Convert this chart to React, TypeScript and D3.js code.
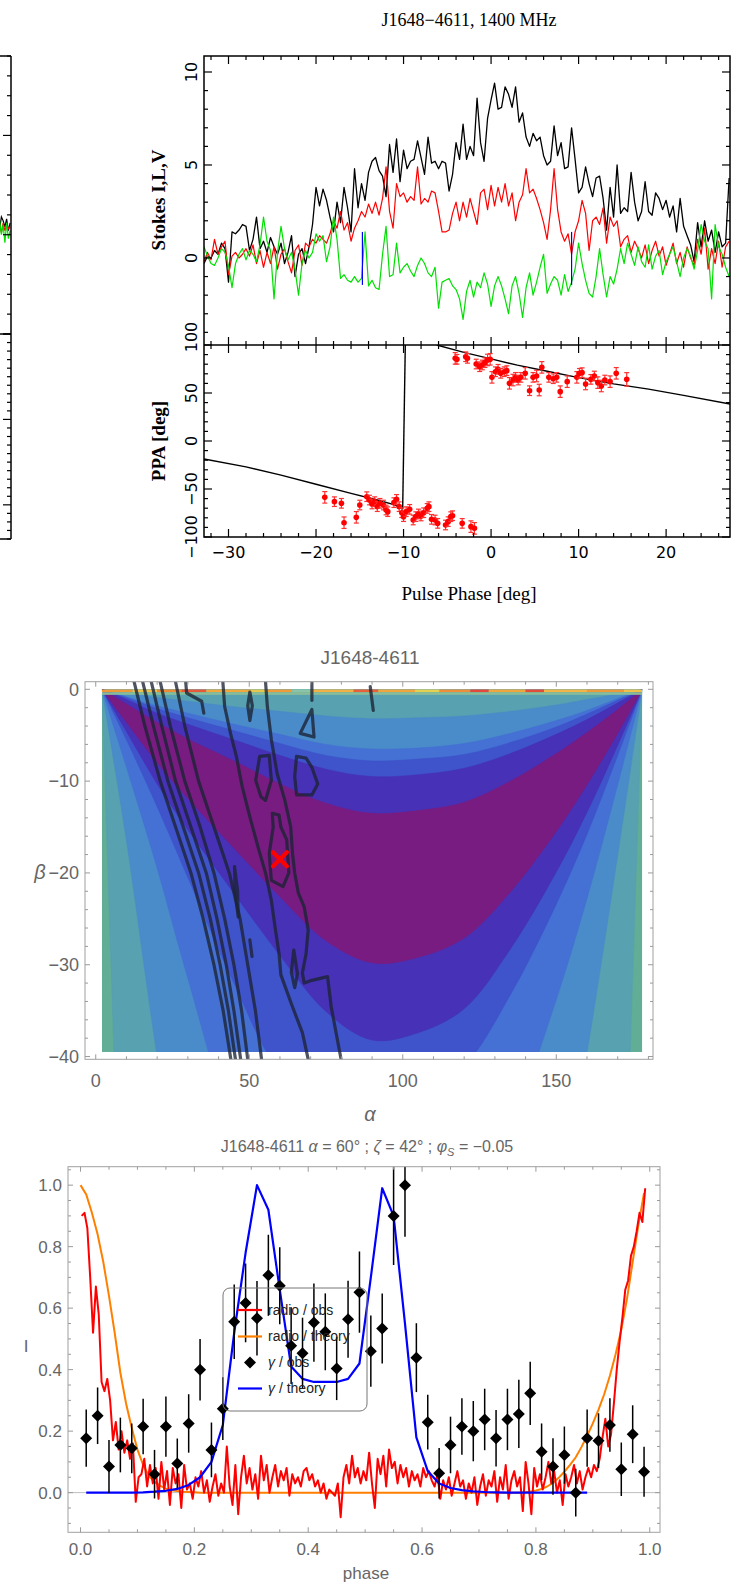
import React, { useEffect, useRef } from "react";
import * as d3 from "d3";

const PAGE_W = 743;
const PAGE_H = 1593;
const SERIF = "'Liberation Serif', 'DejaVu Serif', serif";
const PGNUM = "'DejaVu Sans', 'Liberation Sans', sans-serif";
const SANS = "'Liberation Sans', Arial, sans-serif";

/* ================= Panel 1: polarisation profile ================= */
const profileTitle = "J1648\u22124611, 1400 MHz";
const profilePhaseStart = -32.8;
const profilePhaseStep = 0.4;
const stokesI = [
  -0.3, 0.1, 0.0, 0.4, 0.2, 0.8, 0.5, -1.3, 1.4, 1.3,
  1.5, 1.8, 1.7, 0.4, 1.0, 2.2, 0.5, 0.9, 0.3, 1.1,
  0.6, 0.2, 0.8, -0.3, 0.3, 1.2, -1.0, 0.2, 0.5, -0.3,
  0.6, 1.8, 3.8, 2.8, 3.7, 3.1, 2.2, 1.4, 3.0, 1.9,
  3.8, 2.7, 1.4, 4.8, 2.7, 4.0, 3.1, 4.6, 5.2, 5.4,
  4.7, 4.4, 3.3, 6.1, 4.6, 6.4, 4.1, 5.8, 4.8, 5.2,
  5.3, 6.3, 5.4, 4.5, 6.5, 5.1, 5.2, 4.8, 5.2, 5.1,
  3.6, 4.5, 6.2, 5.3, 7.2, 5.3, 6.0, 5.5, 8.6, 6.2,
  5.2, 7.5, 8.5, 9.4, 8.0, 8.1, 9.2, 8.8, 8.1, 9.2,
  7.3, 7.8, 6.5, 6.0, 6.7, 6.3, 6.5, 5.5, 5.0, 5.2,
  7.1, 5.5, 6.2, 4.8, 4.9, 7.0, 5.3, 3.5, 3.8, 4.9,
  4.0, 3.3, 4.3, 4.4, 3.2, 1.5, 3.8, 2.2, 5.0, 2.4,
  2.7, 2.5, 4.6, 3.0, 2.0, 2.5, 4.1, 2.5, 2.3, 3.5,
  3.2, 2.6, 3.1, 2.2, 2.8, 1.4, 3.2, 1.7, 1.2, 0.7,
  -0.2, 1.9, 0.6, 2.0, 0.9, 1.5, 0.3, 1.4, 0.6, 0.8,
  4.3,
];
const stokesL = [
  -0.2, 0.3, -0.1, 1.0, 0.2, 0.6, 0.9, -0.9, 0.1, 0.3,
  0.0, 0.2, 0.5, 0.1, 0.7, -0.3, 0.4, -0.5, 0.3, -0.3,
  0.6, -0.6, 0.2, 0.5, -0.2, -0.8, 0.4, 0.7, -0.4, 0.8,
  0.6, 1.0, 0.8, 1.2, 1.0, 0.8, 1.3, 2.0, 1.6, 2.5,
  1.5, 1.9, 0.9, 1.6, 2.0, 2.5, 2.2, 2.9, 2.4, 3.0,
  2.3, 3.2, 4.9, 2.5, 1.6, 4.0, 3.3, 3.5, 3.0, 3.3,
  3.1, 4.9, 2.9, 3.2, 3.0, 3.6, 3.5, 2.5, 1.4, 1.4,
  1.5, 2.4, 3.0, 2.0, 3.0, 2.2, 3.2, 2.5, 1.8, 3.5,
  3.7, 2.6, 3.9, 2.8, 3.8, 3.0, 4.0, 2.8, 3.5, 2.0,
  3.0, 3.4, 4.8, 3.5, 3.7, 3.2, 2.6, 1.9, 1.0, 2.6,
  4.8, 2.6, 1.4, 0.9, 1.3, 0.2, 1.4, 2.0, 3.1, 2.4,
  0.4, 2.0, 2.2, 1.8, 2.7, 0.8, 2.2, 1.7, 2.0, 0.6,
  1.0, 1.2, 0.3, 0.9, 0.5, 0.0, 0.7, -0.3, 0.4, 0.9,
  0.1, 0.6, -0.4, 0.2, 0.8, -0.3, 0.3, -0.5, 0.6, 0.0,
  -0.4, 1.0, 0.2, 1.6, -0.6, 0.5, -0.3, 0.9, -0.5, 0.6,
  0.9,
];
const stokesV = [
  0.6, 0.1, -0.3, -0.4, 0.0, 0.5, 0.3, -0.4, -1.6, -0.3,
  0.2, 0.5, -0.1, 0.4, 0.2, -0.2, 0.7, 2.2, 0.9, 0.4,
  -2.2, 0.3, 1.7, 0.5, -0.1, 0.3, -0.6, -2.0, -0.3, 0.4,
  0.0, 0.3, 1.3, 0.9, 1.2, -0.2, 0.6, 2.2, 1.0, -1.1,
  -0.9, -1.2, -1.3, -1.0, -1.3, -1.1, 1.4, -1.5, -1.2, -1.6,
  -1.7, 0.2, 1.7, -1.0, -0.9, 0.8, -0.8, -0.5, -0.3, -0.7,
  -1.0, -0.4, 0.0, -0.3, -0.8, -1.0, -0.5, -2.7, -1.3, -1.2,
  -1.1, -1.5, -1.7, -2.2, -3.3, -1.8, -1.2, -2.1, -1.3, -1.6,
  -0.8, -1.4, -2.6, -1.5, -1.0, -1.5, -2.2, -3.0, -1.5, -1.0,
  -1.9, -3.2, -1.6, -0.8, -2.0, -1.3, -0.5, 0.2, -1.9, -1.4,
  -1.0, -1.2, -2.0, -0.9, -1.8, -1.3, -0.6, 0.8, -0.3, -1.2,
  -1.9, -2.1, -1.0, 0.5, -0.9, -2.1, -1.0, -1.4, -0.6, 0.5,
  -0.3, 0.8, 0.2, -0.4, 0.6, -0.2, -0.5, 0.7, -0.6, 0.1,
  0.4, -0.9, -0.2, 0.2, 0.6, -0.2, -1.0, 0.0, 0.5, 0.1,
  -0.6, 0.4, 1.8, 0.9, 0.5, -2.2, 1.8, 0.6, 0.2, -0.5,
  -1.0,
];
const onPulseEdges = [-14.7, 9.2];
const onPulseEdgeSpan = [-1.45, 1.4];
const stokesTickValues = [0, 5, 10];
const ppaTickValues = [-100, -50, 0, 50, 100];
const phaseTickValues = [-30, -20, -10, 0, 10, 20];

const ppaPhase = [
  -19.0, -17.9, -17.1, -16.8, -15.4, -15.0, -14.2, -13.9, -13.6, -13.3,
  -13.0, -12.7, -12.3, -12.0, -11.8, -11.1, -10.8, -10.5, -10.2, -10.0,
  -9.7, -9.3, -8.9, -8.6, -8.3, -8.0, -7.7, -7.3, -7.1, -6.8,
  -6.4, -6.1, -5.2, -4.9, -4.6, -4.4, -3.3, -2.3, -1.9,
  -4.1, -3.9, -2.9, -2.7, -1.7, -1.3, -1.0, -0.7, -0.4, -0.1,
  0.1, 0.5, 0.8, 1.1, 1.5, 1.8, 2.1, 2.5, 2.8, 3.1,
  3.4, 3.9, 4.4, 4.8, 5.2, 5.5, 5.8, 6.6, 7.1, 7.5,
  7.9, 8.7, 9.8, 10.1, 10.4, 10.8, 11.4, 11.8, 12.2, 12.6,
  13.0, 13.6, 14.3, 15.5,
];
const ppaAngle = [
  -58.7, -63.2, -64.9, -85.1, -79.5, -66.7, -58.0, -61.5, -65.6, -63.2,
  -68.4, -64.9, -66.7, -71.9, -73.6, -64.2, -60.8, -68.4, -74.7, -78.8,
  -73.6, -71.2, -82.3, -78.8, -76.0, -78.1, -74.7, -70.2, -68.4, -81.6,
  -82.3, -85.8, -87.5, -84.0, -78.8, -77.8, -85.8, -89.2, -91.0,
  86.1, 85.1, 87.8, 86.1, 80.2, 77.4, 79.2, 81.6, 84.4, 85.1,
  66.3, 72.2, 74.7, 70.5, 72.2, 73.3, 60.1, 63.5, 66.3, 63.5,
  66.3, 70.5, 52.4, 66.3, 67.7, 53.1, 76.7, 66.3, 64.9, 66.3,
  51.4, 61.8, 66.3, 70.5, 71.2, 59.4, 64.2, 67.7, 60.8, 57.3,
  63.5, 61.8, 70.5, 64.2,
];
const ppaErr = [
  6, 5, 5, 6, 6, 5, 5, 5, 5, 5,
  5, 5, 5, 5, 5, 5, 5, 5, 5, 5,
  5, 5, 5, 5, 5, 5, 5, 5, 5, 5,
  5, 5, 5, 5, 5, 5, 5, 6, 6,
  6, 5, 5, 5, 5, 5, 5, 5, 6, 6,
  6, 5, 5, 5, 5, 5, 6, 6, 5, 5,
  5, 6, 5, 5, 6, 6, 6, 5, 5, 5,
  6, 6, 6, 5, 5, 6, 5, 5, 6, 6,
  5, 6, 6, 7,
];
const rvmLowPhase = [-32.8, -28, -24, -20, -16, -13, -11, -10.1];
const rvmLowAngle = [-18.7, -27, -35.5, -45, -54.5, -61.5, -66.5, -71];
const rvmJumpPhase = [-10.1, -9.8];
const rvmJumpAngle = [-71, 100];
const rvmHighPhase = [-6.2, -3, 0, 3, 6, 10, 14, 18, 22, 27.3];
const rvmHighAngle = [100, 92, 85.5, 79, 73.5, 66, 59.5, 54, 47.5, 38.5];

/* neighbour panel cut off by the page edge */
const leftPhase = [26.0, 26.2, 26.4, 26.6, 26.8, 27.0, 27.2];
const leftI = [0.3, 0.9, 0.7, 0.4, 0.8, 0.2, 0.6];
const leftL = [0.5, 0.1, 0.6, 0.2, 0.5, 0.3, 0.4];
const leftV = [0.7, 0.0, 0.5, -0.4, 0.6, -0.2, 0.2];

/* ================= Panel 2: chi^2 map in (alpha, beta) ================= */
const mapTitle = "J1648-4611";
const alphaGrid = [2, 10, 20, 30, 45, 60, 75, 90, 105, 120, 135, 150, 160, 170, 178];
const tealTop = [0, 0, 0, 0, 0, 0, 0, 0, 0, 0, 0, 0, 0, 0, 0];
const tealBottom = [0, -80, -175, -260, -370, -455, -490, -500, -490, -455, -370, -260, -175, -80, 0];
const lightBlueTop = [0, -0.4, -0.9, -1.3, -1.9, -2.4, -2.9, -3.2, -3.1, -2.9, -2.4, -1.7, -1.1, -0.5, 0];
const lightBlueBottom = [0, -16.5, -40, -60, -90, -105, -111, -113, -110.7, -102.8, -83.6, -58.8, -39.6, -18.1, 0];
const blueTop = [0, -0.8, -1.8, -2.6, -3.8, -4.9, -6.0, -6.5, -6.4, -5.9, -4.8, -3.4, -2.3, -1.0, 0];
const blueBottom = [0, -8.5, -19.5, -31.5, -48, -58, -63.5, -65, -63.7, -59.2, -48.1, -33.8, -22.8, -10.4, 0];
const royalTop = [0, -0.9, -2.1, -3.1, -4.5, -5.9, -7.2, -7.8, -7.6, -7.1, -5.8, -4.1, -2.7, -1.2, 0];
const royalBottom = [0, -5.5, -12.8, -20.5, -32, -41.5, -44.5, -45, -44.1, -41.0, -33.3, -23.4, -15.8, -7.2, 0];
const indigoTop = [0, -1.1, -2.6, -3.8, -5.5, -7.2, -8.7, -9.5, -9.3, -8.6, -7.0, -4.9, -3.3, -1.5, 0];
const indigoBottom = [0, -4.6, -10.3, -15.3, -22.2, -29.0, -35.1, -38.2, -37.4, -34.8, -28.3, -19.9, -13.4, -6.1, 0];
const purpleTop = [0, -1.6, -3.6, -5.4, -7.8, -10.3, -12.4, -13.5, -13.2, -12.3, -10.0, -7.0, -4.7, -2.2, 0];
const purpleBottom = [0, -3.6, -8.0, -11.9, -17.3, -22.6, -27.4, -29.8, -29.2, -27.1, -22.1, -15.5, -10.4, -4.8, 0];
const backgroundColor = "#62ad96";
const bandColors = ["#57a1b0", "#4a8bc9", "#4471d3", "#3f53cb", "#4631b7", "#791c82"];
const bandTops = [tealTop, lightBlueTop, blueTop, royalTop, indigoTop, purpleTop];
const bandBottoms = [tealBottom, lightBlueBottom, blueBottom, royalBottom, indigoBottom, purpleBottom];
const edgeStripStart = [2, 12, 20, 28, 36, 50, 56, 64, 70, 84, 92, 104, 112, 122, 128, 140, 146, 160, 172];
const edgeStripEnd = [12, 20, 28, 36, 50, 56, 64, 70, 84, 92, 104, 112, 122, 128, 140, 146, 160, 172, 178];
const edgeStripColor = [
  "#ef9a3a", "#f2c04a", "#ec8a36", "#e8583a", "#f0a83e", "#e6c64e", "#f09a3a", "#8cc4a8", "#f3b044", "#e8603a",
  "#f0a43e", "#e6d052", "#ee8e38", "#e4483a", "#f0a63e", "#e44c3a", "#f2b446", "#ee9a3c", "#f0c04a",
];
const contourA = [[12.5, 0.8], [16, -4], [21, -10], [26, -15], [31, -20], [35, -25], [38.5, -30], [41.5, -35], [44, -40.3]];
const contourB = [[15.3, 0.8], [18.8, -4], [23.5, -10], [28.5, -15], [33.5, -20], [37.3, -25], [40.5, -30], [43.2, -35], [45.5, -40.3]];
const contourC = [[18.1, 0.8], [21.5, -4], [26, -10], [31, -15], [36, -20], [39.5, -25], [42.5, -30], [45, -35], [47.2, -40.3]];
const contourD = [[21, 0.8], [24.3, -4], [29, -10], [34, -15], [38.5, -20], [42, -25], [45, -30], [47.5, -35], [49.5, -40.3]];
const contourE = [[26, 0.8], [29, -4], [33.5, -10], [38.5, -15], [43.5, -20], [47, -25], [49.5, -30], [52, -35], [54, -40.3]];
const contourHook = [[29.3, 0.8], [29.6, -0.4], [34.5, -1.3], [35.2, -2.6]];
const contourG = [[41.4, 0.8], [42.0, -1.9], [43.9, -4.8], [45.8, -7.3], [47.7, -10.6], [50.2, -13.9], [52.8, -17.1], [55.3, -20.0], [57.2, -23.0], [58.4, -25.9], [59.7, -28.8], [60.3, -31.1], [64.1, -34.6], [67.3, -37.4], [69.2, -40.3]];
const contourH = [[55.3, 0.8], [55.9, -1.9], [57.2, -5.5], [59.1, -9.2], [61.6, -12.1], [63.5, -15.0], [64.1, -17.9], [64.8, -20.0], [66.0, -22.2], [67.9, -23.7], [69.2, -26.2], [68.5, -28.8], [67.3, -30.9], [67.9, -32.0], [70.4, -31.7], [75.5, -31.3], [76.7, -34.6], [79.9, -40.3]];
const loopUpper = [[53.4, -7.3], [56.5, -7.2], [57.2, -9.9], [55.3, -12.1], [53.8, -11.7], [52.1, -9.9], [53.4, -7.3]];
const loopD = [[65.4, -7.3], [68.5, -7.5], [70.4, -8.5], [72.3, -10.3], [70.4, -11.5], [65.4, -11.5], [64.8, -9.5], [65.4, -7.3]];
const loopTriangle = [[66.6, -4.8], [70.4, -2.2], [71.1, -5.2], [66.6, -4.8]];
const loopBest = [[57.5, -13.5], [59.7, -13.7], [60.3, -15.0], [62.2, -16.4], [62.9, -20.0], [61.0, -21.5], [57.2, -20.8], [56.5, -17.9], [57.8, -15.0], [57.5, -13.5]];
const loopDiamond = [[50.2, -0.3], [51.0, -1.8], [50.2, -3.4], [49.5, -1.8], [50.2, -0.3]];
const loopSpindle = [[45.2, -19.3], [46.2, -22.0], [46.4, -24.8], [45.4, -22.0], [45.2, -19.3]];
const stubLow = [[50.2, -27.3], [50.9, -29.1]];
const loopLow = [[64.5, -28.4], [65.7, -31.0], [64.8, -32.5], [63.7, -30.8], [64.5, -28.4]];
const stubTop = [[70.4, 0.8], [70.4, -1.2]];
const stubRight = [[89.4, 0.3], [90.4, -2.3]];
const mapContours = [contourA, contourB, contourC, contourD, contourE, contourHook, contourG, contourH, loopUpper, loopD, loopTriangle, loopBest, loopDiamond, loopSpindle, stubLow, loopLow, stubTop, stubRight];
const bestAlpha = 60;
const bestBeta = -18.5;
const alphaTickValues = [0, 50, 100, 150];
const betaTickValues = [0, -10, -20, -30, -40];

/* ================= Panel 3: light curves ================= */
const radioObsStart = 0.002;
const radioObsStep = 0.005;
const radioObs = [
  0.90, 0.91, 0.86, 0.70, 0.52, 0.67, 0.58, 0.36, 0.33, 0.37,
  0.30, 0.17, 0.23, 0.14, 0.20, 0.13, 0.17, 0.11, 0.16, -0.03,
  0.05, 0.06, 0.11, 0.02, 0.09, 0.03, 0.08, -0.02, 0.10, 0.01,
  0.07, -0.04, 0.08, 0.03, 0.06, -0.05, 0.09, 0.01, 0.03, -0.02,
  0.05, 0.02, 0.07, 0.00, 0.04, -0.03, 0.02, 0.06, -0.01, 0.03,
  0.00, 0.15, 0.02, -0.04, 0.09, -0.07, 0.05, 0.12, 0.03, 0.08,
  0.01, 0.06, -0.02, 0.12, 0.04, 0.09, 0.00, 0.05, 0.09, 0.02,
  0.07, 0.04, 0.08, -0.01, 0.06, 0.03, 0.05, 0.02, 0.07, 0.08,
  0.04, 0.06, 0.02, 0.04, 0.00, 0.03, -0.02, 0.01, 0.00, -0.01,
  0.03, -0.08, 0.05, 0.09, 0.03, 0.12, 0.05, 0.08, 0.03, 0.07,
  0.04, 0.13, 0.03, -0.05, 0.11, 0.06, 0.12, 0.02, 0.14, 0.08,
  0.10, 0.03, 0.09, 0.05, 0.08, 0.02, 0.07, 0.04, 0.06, 0.02,
  0.08, 0.05, 0.07, 0.04, 0.02, 0.06, -0.02, 0.04, 0.01, 0.05,
  -0.01, 0.03, 0.07, 0.02, 0.04, -0.02, 0.03, 0.00, 0.05, -0.04,
  0.02, 0.06, -0.01, 0.04, 0.02, 0.07, -0.03, 0.05, 0.01, 0.09,
  -0.02, 0.04, 0.07, 0.02, 0.05, -0.06, 0.10, 0.03, -0.07, 0.08,
  0.02, 0.06, 0.01, 0.05, 0.10, 0.03, 0.07, 0.00, 0.04, -0.04,
  0.06, 0.02, 0.05, 0.09, 0.03, 0.07, 0.01, 0.05, 0.08, 0.05,
  0.09, 0.07, 0.11, 0.18, 0.24, 0.15, 0.19, 0.29, 0.40, 0.49,
  0.57, 0.66, 0.69, 0.77, 0.80, 0.85, 0.91, 0.88, 0.99,
];
const radioTheoryStep = 0.01;
const radioTheory = [
  1.00, 0.97, 0.91, 0.84, 0.75, 0.64, 0.52, 0.39, 0.29, 0.21,
  0.14, 0.09, 0.055, 0.035, 0.022, 0.013, 0.008, 0.005, 0.003, 0.002,
  0.001, 0, 0, 0, 0, 0, 0, 0, 0, 0,
  0, 0, 0, 0, 0, 0, 0, 0, 0, 0,
  0, 0, 0, 0, 0, 0, 0, 0, 0, 0,
  0, 0, 0, 0, 0, 0, 0, 0, 0, 0,
  0, 0, 0, 0, 0, 0, 0, 0, 0, 0,
  0, 0, 0, 0, 0, 0, 0, 0, 0.001, 0.003,
  0.007, 0.012, 0.02, 0.032, 0.048, 0.068, 0.09, 0.115, 0.148, 0.185,
  0.225, 0.27, 0.32, 0.38, 0.45, 0.53, 0.63, 0.75, 0.87, 0.975,
];
const gammaStart = 0.01;
const gammaStep = 0.02;
const gammaTheory = [
  0, 0, 0, 0, 0, 0.001, 0.003, 0.006, 0.012, 0.025,
  0.05, 0.10, 0.22, 0.52, 0.78, 1.0, 0.92, 0.66, 0.41, 0.37,
  0.36, 0.36, 0.36, 0.37, 0.42, 0.70, 0.99, 0.90, 0.55, 0.18,
  0.07, 0.03, 0.015, 0.008, 0.004, 0.002, 0.001, 0, 0, 0,
  0, 0, 0, 0, 0,
];
const gammaObs = [
  0.177, 0.25, 0.085, 0.155, 0.144, 0.215, 0.06, 0.215, 0.095, 0.225,
  0.40, 0.139, 0.273, 0.556, 0.617, 0.567, 0.707, 0.673, 0.478, 0.453,
  0.553, 0.523, 0.404, 0.564, 0.652, 0.46, 0.534, 0.90, 1.0, 0.439,
  0.229, 0.063, 0.155, 0.215, 0.20, 0.238, 0.177, 0.238, 0.256, 0.323,
  0.133, 0.085, 0.122, 0.0, 0.177, 0.169, 0.22, 0.076, 0.19, 0.068,
];
const gammaErr = [
  0.093, 0.092, 0.086, 0.089, 0.081, 0.09, 0.079, 0.098, 0.081, 0.095,
  0.1, 0.089, 0.102, 0.121, 0.128, 0.121, 0.132, 0.125, 0.125, 0.116,
  0.127, 0.125, 0.103, 0.125, 0.132, 0.116, 0.114, 0.16, 0.168, 0.112,
  0.089, 0.082, 0.092, 0.092, 0.098, 0.1, 0.092, 0.1, 0.111, 0.103,
  0.092, 0.092, 0.093, 0.078, 0.093, 0.089, 0.087, 0.087, 0.094, 0.081,
];
const phaseTicks = [0, 0.2, 0.4, 0.6, 0.8, 1.0];
const intensityTicks = [0, 0.2, 0.4, 0.6, 0.8, 1.0];
const legendLabels = ["radio / obs", "radio / theory", "/ obs", "/ theory"];
const legendColors = ["#ff0000", "#ff8000", "#000000", "#0000ff"];

/* ================= helpers ================= */
function tickValues(lo: number, hi: number, step: number) {
  const a = Math.ceil(lo / step - 1e-9);
  const b = Math.floor(hi / step + 1e-9);
  return d3.range(a, b + 1).map((k) => +(k * step).toFixed(6));
}
function isMajor(v: number, major: number) {
  const r = v / major;
  return Math.abs(r - Math.round(r)) < 1e-6;
}
function hTicks(g: any, scale: any, y: number, lo: number, hi: number, minor: number, major: number, majLen: number, minLen: number, dir: number) {
  tickValues(lo, hi, minor).forEach((v) => {
    const len = isMajor(v, major) ? majLen : minLen;
    g.append("line").attr("x1", scale(v)).attr("x2", scale(v)).attr("y1", y).attr("y2", y + dir * len);
  });
}
function vTicks(g: any, scale: any, x: number, lo: number, hi: number, minor: number, major: number, majLen: number, minLen: number, dir: number) {
  tickValues(lo, hi, minor).forEach((v) => {
    const len = isMajor(v, major) ? majLen : minLen;
    g.append("line").attr("y1", scale(v)).attr("y2", scale(v)).attr("x1", x).attr("x2", x + dir * len);
  });
}
function minus(v: number, digits = 0) {
  const s = Math.abs(v).toFixed(digits);
  return v < 0 ? "\u2212" + s : s;
}

/* ================= Panel 1 drawing ================= */
function drawProfile(svg: any, defs: any) {
  const L = 204, R = 730, T = 56, M = 345, B = 537;
  const x = d3.scaleLinear().domain([-32.8, 27.3]).range([L, R]);
  const yS = d3.scaleLinear().domain([-4.68, 10.86]).range([M, T]);
  const yA = d3.scaleLinear().domain([-100, 100]).range([B, M]);
  defs.append("clipPath").attr("id", "clip-stokes").append("rect").attr("x", L).attr("y", T).attr("width", R - L).attr("height", M - T);
  defs.append("clipPath").attr("id", "clip-ppa").append("rect").attr("x", L).attr("y", M).attr("width", R - L).attr("height", B - M);

  const phase = stokesI.map((_, i) => profilePhaseStart + i * profilePhaseStep);
  const g = svg.append("g").attr("clip-path", "url(#clip-stokes)");
  const mk = (vals: number[]) => d3.line<number>().x((_, i) => x(phase[i])).y((v) => yS(v))(vals);
  const series: [number[], string, number][] = [
    [stokesI, "#000000", 1.3],
    [stokesL, "#ff0000", 1.2],
    [stokesV, "#00e000", 1.2],
  ];
  series.forEach(([vals, c, w]) => {
    g.append("path").attr("d", mk(vals)).attr("fill", "none").attr("stroke", c).attr("stroke-width", w).attr("stroke-linejoin", "round");
  });
  onPulseEdges.forEach((p) => {
    g.append("line").attr("x1", x(p)).attr("x2", x(p)).attr("y1", yS(onPulseEdgeSpan[0])).attr("y2", yS(onPulseEdgeSpan[1]))
      .attr("stroke", "#0000ff").attr("stroke-width", 1.2);
  });

  const ga = svg.append("g").attr("clip-path", "url(#clip-ppa)");
  const rvm = d3.line<number[]>().x((d) => x(d[0])).y((d) => yA(d[1]));
  const branches: [number[], number[]][] = [
    [rvmLowPhase, rvmLowAngle],
    [rvmJumpPhase, rvmJumpAngle],
    [rvmHighPhase, rvmHighAngle],
  ];
  branches.forEach(([ps, as]) => {
    ga.append("path").attr("d", rvm(ps.map((p, i) => [p, as[i]]))).attr("fill", "none").attr("stroke", "#000").attr("stroke-width", 1.4);
  });
  ppaPhase.forEach((p, i) => {
    const cx = x(p), a = ppaAngle[i], e = ppaErr[i];
    const e1 = yA(a - e), e2 = yA(a + e);
    ga.append("line").attr("x1", cx).attr("x2", cx).attr("y1", e1).attr("y2", e2).attr("stroke", "#ff3030").attr("stroke-width", 1.2);
    [e1, e2].forEach((yy) => ga.append("line").attr("x1", cx - 2.5).attr("x2", cx + 2.5).attr("y1", yy).attr("y2", yy).attr("stroke", "#ff3030").attr("stroke-width", 1.2));
    ga.append("circle").attr("cx", cx).attr("cy", yA(a)).attr("r", 2.8).attr("fill", "#ff0000");
  });

  svg.append("rect").attr("x", L).attr("y", T).attr("width", R - L).attr("height", B - T).attr("fill", "none").attr("stroke", "#000").attr("stroke-width", 1.5);
  svg.append("line").attr("x1", L).attr("x2", R).attr("y1", M).attr("y2", M).attr("stroke", "#000").attr("stroke-width", 1.5);
  const tg = svg.append("g").attr("stroke", "#000").attr("stroke-width", 1.2);
  hTicks(tg, x, T, -32.8, 27.3, 2, 10, 8, 4, 1);
  hTicks(tg, x, M, -32.8, 27.3, 2, 10, 8, 4, -1);
  hTicks(tg, x, M, -32.8, 27.3, 2, 10, 8, 4, 1);
  hTicks(tg, x, B, -32.8, 27.3, 2, 10, 8, 4, -1);
  vTicks(tg, yS, L, -4.68, 10.86, 1, 5, 8, 4, 1);
  vTicks(tg, yS, R, -4.68, 10.86, 1, 5, 8, 4, -1);
  vTicks(tg, yA, L, -100, 100, 10, 50, 8, 4, 1);
  vTicks(tg, yA, R, -100, 100, 10, 50, 8, 4, -1);

  const lab = svg.append("g").attr("font-family", PGNUM).attr("font-size", 16).attr("fill", "#000").attr("text-anchor", "middle");
  stokesTickValues.forEach((v) => {
    lab.append("text").attr("transform", `translate(197,${yS(v)}) rotate(-90)`).text(minus(v));
  });
  ppaTickValues.forEach((v) => {
    const yy = v === 100 ? yA(v) - 8 : yA(v);
    lab.append("text").attr("transform", `translate(197,${yy}) rotate(-90)`).text(minus(v));
  });
  phaseTickValues.forEach((v) => {
    lab.append("text").attr("x", x(v)).attr("y", 558).text(minus(v));
  });

  const tx = svg.append("g").attr("font-family", SERIF).attr("fill", "#000").attr("text-anchor", "middle");
  tx.append("text").attr("x", 469).attr("y", 26).attr("font-size", 18).text(profileTitle);
  tx.append("text").attr("x", 469).attr("y", 600).attr("font-size", 19).text("Pulse Phase [deg]");
  tx.append("text").attr("transform", "translate(165,200) rotate(-90)").attr("font-size", 19).attr("font-weight", "bold").text("Stokes I,L,V");
  tx.append("text").attr("transform", "translate(165,441) rotate(-90)").attr("font-size", 19).attr("font-weight", "bold").text("PPA [deg]");
}

function drawLeftStub(svg: any, defs: any) {
  const R = 11, T = 56, M = 334, B = 539;
  const x = d3.scaleLinear().domain([-32.8, 27.3]).range([R - 525, R]);
  const yS = d3.scaleLinear().domain([-5, 9]).range([M, T]);
  const yA = d3.scaleLinear().domain([-140, 100]).range([B, M]);
  defs.append("clipPath").attr("id", "clip-left").append("rect").attr("x", 0).attr("y", T).attr("width", R).attr("height", M - T);
  const g = svg.append("g").attr("clip-path", "url(#clip-left)");
  const mk = (vals: number[]) => d3.line<number>().x((_, i) => x(leftPhase[i])).y((v) => yS(v))(vals);
  const series: [number[], string][] = [[leftI, "#000"], [leftL, "#ff0000"], [leftV, "#00e000"]];
  series.forEach(([vals, c]) => g.append("path").attr("d", mk(vals)).attr("fill", "none").attr("stroke", c).attr("stroke-width", 1.2));
  const f = svg.append("g").attr("stroke", "#000").attr("stroke-width", 1.5);
  f.append("line").attr("x1", R).attr("x2", R).attr("y1", T).attr("y2", B);
  [T, M, B].forEach((yy) => f.append("line").attr("x1", 0).attr("x2", R).attr("y1", yy).attr("y2", yy));
  const tg = svg.append("g").attr("stroke", "#000").attr("stroke-width", 1.2);
  vTicks(tg, yS, R, -5, 9, 1, 5, 8, 4, -1);
  vTicks(tg, yA, R, -140, 100, 10, 100, 8, 4, -1);
}

/* ================= Panel 2 drawing ================= */
function drawMap(svg: any, defs: any) {
  const L = 85, R = 653, T = 681.7, B = 1059.3;
  const xa = d3.scaleLinear().domain([-3.5, 181.5]).range([L, R]);
  const yb = d3.scaleLinear().domain([-40.3, 0.83]).range([B, T]);
  const x0 = xa(2), x1 = xa(178), y0 = yb(0), y1 = yb(-39.5);
  defs.append("clipPath").attr("id", "clip-map").append("rect").attr("x", x0).attr("y", y0).attr("width", x1 - x0).attr("height", y1 - y0);
  defs.append("clipPath").attr("id", "clip-mapframe").append("rect").attr("x", L).attr("y", T).attr("width", R - L).attr("height", B - T);

  const g = svg.append("g").attr("clip-path", "url(#clip-map)");
  g.append("rect").attr("x", x0).attr("y", y0).attr("width", x1 - x0).attr("height", y1 - y0).attr("fill", backgroundColor);
  const curve = d3.line<number[]>().x((d) => xa(d[0])).y((d) => yb(d[1])).curve(d3.curveCatmullRom.alpha(0.5));
  bandTops.forEach((top, k) => {
    const up = alphaGrid.map((a, i) => [a, top[i]]);
    const lo = alphaGrid.map((a, i) => [a, bandBottoms[k][i]]).reverse();
    const d = (curve(up) as string) + (curve(lo) as string).replace(/^M/, "L") + "Z";
    g.append("path").attr("d", d).attr("fill", bandColors[k]).attr("stroke", bandColors[k]).attr("stroke-width", 0.5);
  });
  edgeStripStart.forEach((a0, i) => {
    g.append("rect").attr("x", xa(a0)).attr("y", yb(0)).attr("width", xa(edgeStripEnd[i]) - xa(a0)).attr("height", yb(-0.32) - yb(0)).attr("fill", edgeStripColor[i]);
  });
  g.append("rect").attr("x", x0).attr("y", yb(-0.32)).attr("width", x1 - x0).attr("height", yb(-0.6) - yb(-0.32)).attr("fill", "#88bd98");

  const cg = svg.append("g").attr("clip-path", "url(#clip-mapframe)");
  const pl = d3.line<number[]>().x((d) => xa(d[0])).y((d) => yb(d[1]));
  mapContours.forEach((c) => {
    cg.append("path").attr("d", pl(c)).attr("fill", "none").attr("stroke", "#1b2333").attr("stroke-opacity", 0.78)
      .attr("stroke-width", 3.2).attr("stroke-linejoin", "round").attr("stroke-linecap", "round");
  });
  const cx = xa(bestAlpha), cy = yb(bestBeta), s = 7;
  const xg = svg.append("g").attr("stroke", "#ff0000").attr("stroke-width", 4.2).attr("stroke-linecap", "round");
  xg.append("line").attr("x1", cx - s).attr("y1", cy - s).attr("x2", cx + s).attr("y2", cy + s);
  xg.append("line").attr("x1", cx - s).attr("y1", cy + s).attr("x2", cx + s).attr("y2", cy - s);

  svg.append("rect").attr("x", L).attr("y", T).attr("width", R - L).attr("height", B - T).attr("fill", "none").attr("stroke", "#a0a0a0").attr("stroke-width", 1);
  const tg = svg.append("g").attr("stroke", "#9a9a9a").attr("stroke-width", 1);
  hTicks(tg, xa, B, 0, 180, 10, 50, 5, 3, -1);
  hTicks(tg, xa, T, 0, 180, 10, 50, 5, 3, 1);
  vTicks(tg, yb, L, -40, 0, 2, 10, 5, 3, 1);
  vTicks(tg, yb, R, -40, 0, 2, 10, 5, 3, -1);

  const lab = svg.append("g").attr("font-family", SANS).attr("font-size", 18).attr("fill", "#666");
  alphaTickValues.forEach((v) => lab.append("text").attr("x", xa(v)).attr("y", 1087).attr("text-anchor", "middle").text(minus(v)));
  betaTickValues.forEach((v) => lab.append("text").attr("x", 79).attr("y", yb(v)).attr("dy", "0.35em").attr("text-anchor", "end").text(minus(v)));
  svg.append("text").attr("x", 370).attr("y", 664).attr("text-anchor", "middle").attr("font-family", SANS).attr("font-size", 19).attr("fill", "#666").text(mapTitle);
  svg.append("text").attr("x", 370).attr("y", 1121).attr("text-anchor", "middle").attr("font-family", SANS).attr("font-style", "italic").attr("font-size", 20).attr("fill", "#666").text("\u03b1");
  svg.append("text").attr("x", 40).attr("y", 872).attr("dy", "0.35em").attr("text-anchor", "middle").attr("font-family", SANS).attr("font-style", "italic").attr("font-size", 20).attr("fill", "#666").text("\u03b2");
}

/* ================= Panel 3 drawing ================= */
function drawLightCurve(svg: any, defs: any) {
  const L = 68, R = 660, T = 1166.7, B = 1532.3;
  const x = d3.scaleLinear().domain([-0.022, 1.018]).range([L, R]);
  const y = d3.scaleLinear().domain([-0.129, 1.06]).range([B, T]);
  defs.append("clipPath").attr("id", "clip-lc").append("rect").attr("x", L).attr("y", T).attr("width", R - L).attr("height", B - T);
  const g = svg.append("g").attr("clip-path", "url(#clip-lc)");
  g.append("line").attr("x1", L).attr("x2", R).attr("y1", y(0)).attr("y2", y(0)).attr("stroke", "#bdbdbd").attr("stroke-width", 1);

  const line = (start: number, step: number, vals: number[]) =>
    d3.line<number>().x((_, i) => x(start + i * step)).y((v) => y(v))(vals);
  g.append("path").attr("d", line(0, radioTheoryStep, radioTheory)).attr("fill", "none").attr("stroke", "#ff8000").attr("stroke-width", 2);
  g.append("path").attr("d", line(radioObsStart, radioObsStep, radioObs)).attr("fill", "none").attr("stroke", "#ff0000").attr("stroke-width", 2).attr("stroke-linejoin", "round");
  g.append("path").attr("d", line(gammaStart, gammaStep, gammaTheory)).attr("fill", "none").attr("stroke", "#0000ff").attr("stroke-width", 2.2).attr("stroke-linejoin", "round");

  gammaObs.forEach((v, i) => {
    const px = x(gammaStart + i * gammaStep);
    g.append("line").attr("x1", px).attr("x2", px).attr("y1", y(v - gammaErr[i])).attr("y2", y(v + gammaErr[i])).attr("stroke", "#000").attr("stroke-width", 1.5);
    const py = y(v), r = 6;
    g.append("path").attr("d", `M${px},${py - r}L${px + r},${py}L${px},${py + r}L${px - r},${py}Z`).attr("fill", "#000");
  });

  svg.append("rect").attr("x", L).attr("y", T).attr("width", R - L).attr("height", B - T).attr("fill", "none").attr("stroke", "#a0a0a0").attr("stroke-width", 1);
  const tg = svg.append("g").attr("stroke", "#9a9a9a").attr("stroke-width", 1);
  hTicks(tg, x, B, 0, 1, 0.05, 0.2, 5, 3, -1);
  hTicks(tg, x, T, 0, 1, 0.05, 0.2, 5, 3, 1);
  vTicks(tg, y, L, -0.1, 1.05, 0.05, 0.2, 5, 3, 1);
  vTicks(tg, y, R, -0.1, 1.05, 0.05, 0.2, 5, 3, -1);

  const lab = svg.append("g").attr("font-family", SANS).attr("font-size", 17).attr("fill", "#666");
  phaseTicks.forEach((v) => lab.append("text").attr("x", x(v)).attr("y", 1555).attr("text-anchor", "middle").text(v.toFixed(1)));
  intensityTicks.forEach((v) => lab.append("text").attr("x", 62).attr("y", y(v)).attr("dy", "0.35em").attr("text-anchor", "end").text(v.toFixed(1)));
  svg.append("text").attr("x", 366).attr("y", 1579).attr("text-anchor", "middle").attr("font-family", SANS).attr("font-size", 17).attr("fill", "#666").text("phase");
  svg.append("text").attr("x", 26).attr("y", 1346).attr("dy", "0.35em").attr("text-anchor", "middle").attr("font-family", SANS).attr("font-size", 17).attr("fill", "#666").text("I");

  const t = svg.append("text").attr("x", 367).attr("y", 1152).attr("text-anchor", "middle").attr("font-family", SANS).attr("font-size", 16).attr("fill", "#666");
  t.append("tspan").text("J1648-4611 ");
  t.append("tspan").attr("font-style", "italic").text("\u03b1");
  t.append("tspan").text(" = 60\u00b0 ; ");
  t.append("tspan").attr("font-style", "italic").text("\u03b6");
  t.append("tspan").text(" = 42\u00b0 ; ");
  t.append("tspan").attr("font-style", "italic").text("\u03c6");
  t.append("tspan").attr("font-style", "italic").attr("font-size", 11).attr("dy", 4).text("S");
  t.append("tspan").attr("dy", -4).text(" = \u22120.05");

  // legend
  svg.append("rect").attr("x", 223).attr("y", 1288).attr("width", 144).attr("height", 123).attr("rx", 7)
    .attr("fill", "none").attr("stroke", "#777").attr("stroke-width", 1);
  const ly = [1310, 1336.5, 1362.5, 1388.5];
  const lg = svg.append("g").attr("font-family", SANS).attr("font-size", 14).attr("fill", "#222");
  legendLabels.forEach((txt, i) => {
    if (i === 2) {
      const r = 6, cx = 250;
      lg.append("path").attr("d", `M${cx},${ly[i] - r}L${cx + r},${ly[i]}L${cx},${ly[i] + r}L${cx - r},${ly[i]}Z`).attr("fill", "#000");
    } else {
      lg.append("line").attr("x1", 238).attr("x2", 262).attr("y1", ly[i]).attr("y2", ly[i]).attr("stroke", legendColors[i]).attr("stroke-width", 2.2);
    }
    const tt = lg.append("text").attr("x", 268).attr("y", ly[i]).attr("dy", "0.35em");
    if (i >= 2) {
      tt.append("tspan").attr("font-style", "italic").text("\u03b3");
      tt.append("tspan").text(" " + txt);
    } else {
      tt.text(txt);
    }
  });
}

export default function App() {
  const ref = useRef<SVGSVGElement>(null);
  useEffect(() => {
    const svg = d3.select(ref.current);
    svg.selectAll("*").remove();
    const defs = svg.append("defs");
    drawProfile(svg, defs);
    drawLeftStub(svg, defs);
    drawMap(svg, defs);
    drawLightCurve(svg, defs);
  }, []);
  return (
    <svg
      ref={ref}
      width={PAGE_W}
      height={PAGE_H}
      style={{ position: "absolute", left: 0, top: 0, background: "#ffffff" }}
    />
  );
}
